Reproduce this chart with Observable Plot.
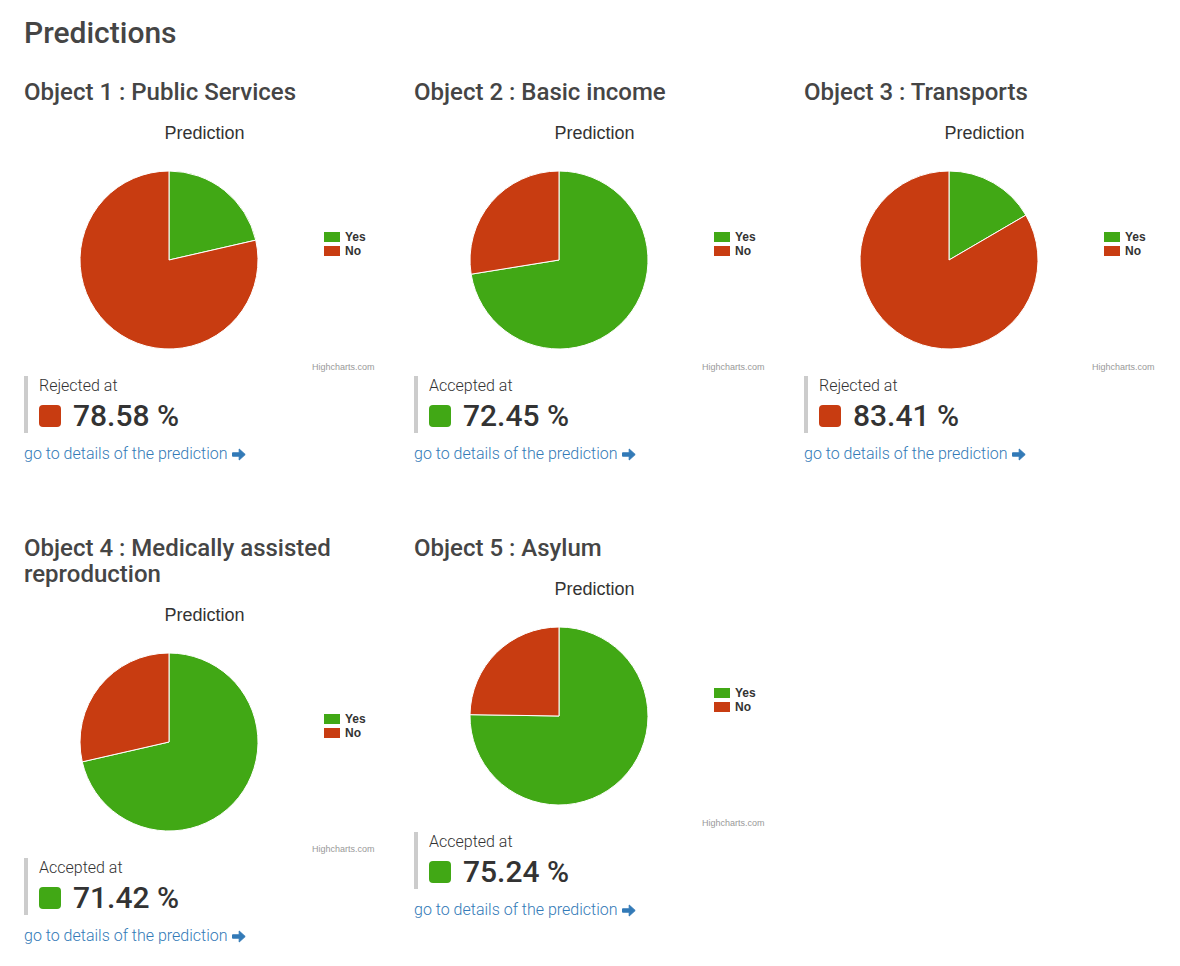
<!DOCTYPE html>
<html>
<head>
<meta charset="utf-8">
<script src="https://cdn.jsdelivr.net/npm/d3@7"></script>
<script src="https://cdn.jsdelivr.net/npm/@observablehq/plot@0.6"></script>
<style>
  body { margin: 0; background: #fff; font-family: Roboto, "Open Sans", sans-serif; }
  #page { padding: 15px 0 0 24px; width: 1170px; }
  h1 { margin: 0; font-size: 30px; line-height: 36px; font-weight: 500; color: #454545; }
  #grid { margin-top: 28px; display: grid; grid-template-columns: 366px 366px 366px; column-gap: 24px; row-gap: 70px; align-items: start; }
  .card h3 { margin: 0; font-size: 24px; line-height: 26px; font-weight: 500; color: #454545; }
  .card svg { display: block; margin-top: 3px; }
  .ind { margin-top: 2px; height: 57px; border-left: 4px solid #ccc; padding-left: 11px; box-sizing: border-box; }
  .ind .lab { font-size: 16px; line-height: 20px; font-weight: 300; color: #333; }
  .ind .val { display: flex; align-items: center; margin-top: 5px; }
  .ind .sq { width: 22px; height: 22px; border-radius: 4px; margin-right: 12px; }
  .ind .num { font-size: 30px; line-height: 30px; font-weight: 500; color: #333; }
  .lnk { margin-top: 10px; font-size: 16px; line-height: 22px; font-weight: 300; color: #337ab7; display: flex; align-items: center; }
  .lnk svg { margin-left: 4px; margin-top: 1px; }
</style>
</head>
<body>
<div id="page">
  <h1>Predictions</h1>
  <div id="grid"></div>
</div>
<script>
// ---- data ----
const objectTitles = [
  "Object 1 : Public Services",
  "Object 2 : Basic income",
  "Object 3 : Transports",
  "Object 4 : Medically assisted reproduction",
  "Object 5 : Asylum"
];
const answers = ["Yes", "No"];
const yesShares = [21.42, 72.45, 16.59, 71.42, 75.24];
const noShares = [78.58, 27.55, 83.41, 28.58, 24.76];
const chartTitle = "Prediction";
const creditText = "Highcharts.com";
const linkText = "go to details of the prediction";

// ---- styles ----
const answerColors = ["#41a815", "#c83c11"];
const colorOf = Object.fromEntries(answers.map((a, i) => [a, answerColors[i]]));
const arrowSvg = `<svg width="14" height="13" viewBox="0 0 14 13"><path d="M0.5 4.8 H7.2 V1 L13.2 6.5 L7.2 12 V8.2 H0.5 Z" fill="#337ab7" stroke="#337ab7" stroke-width="1" stroke-linejoin="round"/></svg>`;

const grid = document.getElementById("grid");

objectTitles.forEach((title, i) => {
  const data = [
    {answer: "Yes", value: yesShares[i]},
    {answer: "No", value: noShares[i]}
  ];
  const card = document.createElement("div");
  card.className = "card";
  const h = document.createElement("h3");
  h.textContent = title;
  card.appendChild(h);

  const pieMark = (index, scales, values, dims) => {
    const color = scales.color ?? (d => colorOf[d]);
    const g = d3.create("svg:g");
    const cx = 145, cy = 152, r = 89;
    const arcs = d3.pie().sort(null).value(d => d.value)(data);
    const arc = d3.arc().innerRadius(0).outerRadius(r);
    g.append("g").attr("transform", `translate(${cx},${cy})`)
      .selectAll("path").data(arcs).join("path")
      .attr("d", arc)
      .attr("fill", d => color(d.data.answer))
      .attr("stroke", "#fff")
      .attr("stroke-width", 1)
      .attr("stroke-linejoin", "round");
    const leg = g.append("g").attr("transform", "translate(300,124)");
    answers.forEach((a, k) => {
      const it = leg.append("g").attr("transform", `translate(0,${k * 14})`);
      it.append("rect").attr("width", 16).attr("height", 10).attr("fill", color(a));
      it.append("text").attr("x", 21).attr("y", 5).attr("dy", "0.35em")
        .attr("text-anchor", "start")
        .attr("font-family", "'Liberation Sans', Arial, sans-serif")
        .attr("font-size", 12).attr("font-weight", "bold").attr("fill", "#333")
        .text(a);
    });
    return g.node();
  };

  const svg = Plot.plot({
    width: 360,
    height: 266,
    margin: 0,
    x: {axis: null},
    y: {axis: null},
    color: {domain: answers, range: answerColors},
    style: {background: "transparent", overflow: "visible"},
    marks: [
      Plot.dot(data, {fill: "answer", r: 0}),
      pieMark,
      Plot.text([chartTitle], {frameAnchor: "top", dy: 25, lineAnchor: "middle", fontSize: 18, fill: "#333", fontFamily: "'Liberation Sans', Arial, sans-serif"}),
      Plot.text([creditText], {frameAnchor: "bottom-right", dx: -10, dy: -5, lineAnchor: "bottom", fontSize: 9, fill: "#999", fontFamily: "'Liberation Sans', Arial, sans-serif"})
    ]
  });
  card.appendChild(svg);

  const accepted = yesShares[i] > noShares[i];
  const ind = document.createElement("div");
  ind.className = "ind";
  ind.innerHTML = `<div class="lab">${accepted ? "Accepted at" : "Rejected at"}</div>
    <div class="val"><div class="sq" style="background:${accepted ? answerColors[0] : answerColors[1]}"></div>
    <div class="num">${(accepted ? yesShares[i] : noShares[i]).toFixed(2)} %</div></div>`;
  card.appendChild(ind);

  const lnk = document.createElement("div");
  lnk.className = "lnk";
  lnk.innerHTML = `<span>${linkText}</span>${arrowSvg}`;
  card.appendChild(lnk);

  grid.appendChild(card);
});
</script>
</body>
</html>
